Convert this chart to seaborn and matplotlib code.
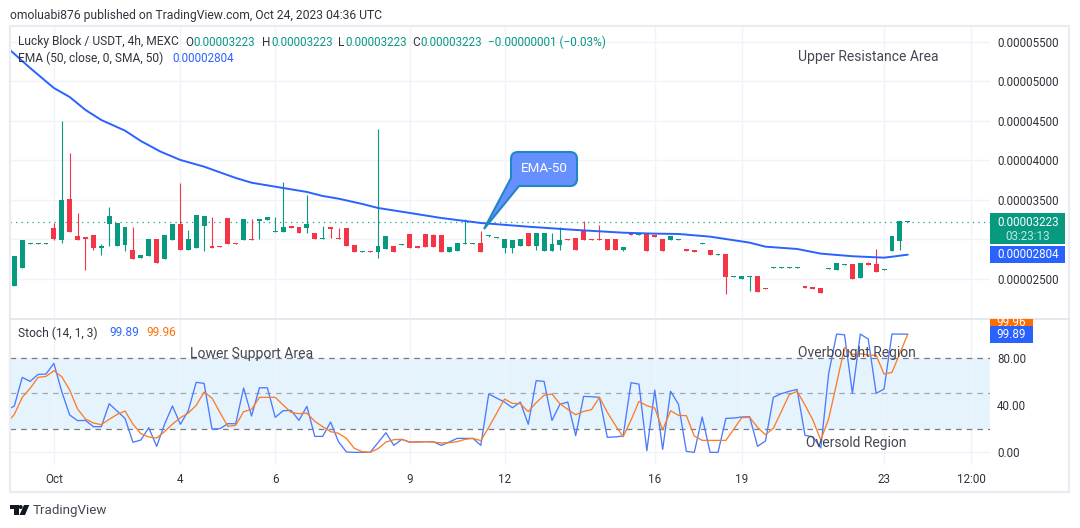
import matplotlib
matplotlib.use("Agg")
import matplotlib.pyplot as plt
from matplotlib.patches import PathPatch, Polygon, Rectangle, Circle
from matplotlib.path import Path
import numpy as np
import pandas as pd
import seaborn as sns

W, H = 1080, 528
SCALE = 1e-8

opens = [2413,2640,2942,2942,2942,3142,2994,3509,3041,3028,3053,2893,3197,2914,2927,2864,2762,2788,3003,2750,
         2990,3193,2864,2889,3167,2914,2916,3269,2954,2990,3003,3231,3243,3094,3091,3167,3155,3142,3079,3005,
         3155,3017,3142,2927,2841,2853,2838,2876,2914,2929,3066,2914,3066,3058,3053,2838,2851,2942,2942,2952,
         3039,3018,2889,2889,2914,3079,2914,2851,2851,2927,3005,3015,3104,3005,3005,3003,3003,2864,3079,3053,
         3066,3053,3003,2990,2993,2876,2864,2942,2864,2803,2813,2520,2497,2524,2535,2384,2638,2638,2630,2638,
         2408,2395,2383,2626,2610,2676,2686,2509,2699,2686,2613,2851,2978,3217]
closes = [2788,2990,2954,2954,2954,3003,3496,3096,2994,3007,2893,2914,3294,3205,3155,2750,2800,3003,2699,3053,
          3193,2864,3003,3307,3294,2889,2904,2940,2942,3256,2990,3256,3281,3106,3155,3142,3079,3193,3003,3017,
          3129,3005,2914,2838,2853,2841,2914,3041,2838,2941,2889,2889,2902,2902,2838,2902,2952,2954,2954,2838,
          3051,3030,3003,2990,3003,2914,3079,3079,2940,2990,2993,2864,2990,2993,2993,2864,2864,2902,3053,3066,
          2851,3028,2851,3041,3005,2851,2838,2954,2800,2815,2522,2532,2535,2536,2332,2372,2650,2650,2642,2650,
          2387,2374,2319,2638,2699,2688,2497,2699,2678,2585,2625,3041,3231,3229]
highs = [2788,2990,2954,2954,2954,3210,4496,4091,3332,3028,3053,2940,3408,3205,3155,3155,2800,3003,3003,3053,
         3193,3712,3117,3307,3294,3281,2916,3269,2954,3256,3256,3256,3281,3281,3724,3167,3155,3560,3079,3167,
         3155,3142,3142,2927,2853,2853,4395,3041,2914,2941,3066,2914,3066,3066,3053,2902,2952,3256,2954,3104,
         3051,3030,3003,2990,3003,3079,3079,3079,3079,3155,3005,3015,3231,3005,3180,3003,3003,2902,3079,3066,
         3066,3053,3003,3041,3005,2876,2864,2954,2864,2815,2813,2532,2535,2536,2535,2384,2650,2650,2642,2650,
         2408,2395,2383,2638,2699,2688,2686,2699,2712,2876,2625,3041,3231,3229]
lows = [2413,2640,2942,2942,2942,2990,2956,3096,2994,2610,2864,2800,2914,2914,2851,2750,2762,2788,2699,2750,
        2990,2864,2864,2889,2851,2889,2904,2940,2942,2990,2990,3003,3243,3094,3091,3142,3079,3079,3003,3005,
        3015,3005,2914,2838,2841,2841,2767,2876,2838,2929,2889,2889,2902,2902,2838,2838,2851,2942,2942,2838,
        3028,3018,2826,2826,2914,2914,2864,2851,2851,2864,2993,2864,2990,2993,2993,2864,2864,2851,3053,3053,
        2851,3028,2851,2990,2993,2851,2838,2942,2800,2803,2307,2520,2497,2345,2332,2372,2638,2638,2630,2638,
        2387,2374,2319,2626,2610,2676,2497,2509,2678,2585,2613,2851,2864,3217]

ema_idx = [-0.55,2,5,7,9,11,14,16,18.5,21,24,28,30,34,37,39,41,44,46,50,54,59,65,71,77,81,84,88,93,95,99,102,106,110,111,113]
ema_val = [5395,5167,4914,4800,4636,4509,4374,4243,4108,4003,3918,3775,3715,3648,3598,3547,3513,3446,3395,3332,3268,3205,
           3158,3117,3082,3070,3066,3032,2956,2905,2876,2817,2784,2766,2778,2804]

stoch_k = [35.5,39.2,63.4,60.0,65.9,66.2,75.2,51.3,31.6,26.8,27.0,21.7,21.7,41.1,34.9,28.7,8.5,10.4,20.8,5.1,23.7,
           39.2,23.7,35.2,59.2,58.3,19.7,20.0,24.2,24.2,54.4,30.7,54.6,54.6,29.6,35.2,35.5,27.0,38.9,13.5,13.5,
           25.6,9.0,0.3,0,0,0,8.2,16.6,5.9,11.0,8.7,8.7,9.0,9.0,5.9,8.7,11.8,11.8,11.8,5.9,49.3,45.9,42.5,37.7,
           42.5,23.7,60.6,60.0,27.0,40.6,42.5,14.1,47.3,47.0,46.5,12.7,13.0,13.8,58.9,57.7,1.4,52.7,2.5,51.6,40.6,
           0.8,0,29.9,0,0,28.7,29.0,29.9,30.1,5.1,9.6,46.5,49.6,51.6,53.2,14.4,13.2,3.7,66.8,100,99.4,49.9,100,
           95.8,49.9,53.5,100,100,99.89]
stoch_d = [24.5,32.1,46.5,54.1,63.4,64.2,69.0,63.9,52.7,36.6,28.2,24.8,23.4,27.9,32.1,34.9,23.9,15.8,13.0,12.1,17.5,
           23.9,29.3,33.2,39.7,51.0,45.9,33.8,22.0,22.8,34.4,36.3,46.5,46.5,46.5,40.0,33.8,32.7,33.2,26.2,21.7,
           17.5,16.1,11.8,3.4,0.6,0,3.1,8.7,10.7,11.0,8.5,9.0,9.0,8.7,7.9,8.2,9.0,11.0,11.8,9.9,21.1,33.0,45.1,41.4,
           41.1,34.4,42.0,48.2,49.3,41.1,36.3,31.8,34.6,36.1,46.5,33.8,23.1,13.2,27.3,43.1,39.4,37.5,18.9,35.2,31.3,
           31.0,13.8,10.1,10.1,10.1,10.1,19.7,29.3,29.6,21.1,14.9,20.3,34.4,48.7,51.6,40.0,27.3,10.4,28.5,58.3,88.7,
           82.8,83.4,82.3,82.0,66.2,67.6,83.7,99.96]

price_ticks = [2500, 3000, 3500, 4000, 4500, 5000, 5500]
hidden_price_tick = 3000
time_tick_idx = [5, 21, 33, 50, 62, 81, 92, 110, 121]
time_tick_lbl = ["Oct", "4", "6", "9", "12", "16", "19", "23", "12:00"]
stoch_ticks = [0, 40, 80]

GREEN, RED, BLUE, ORANGE = "#089981", "#f23645", "#2962ff", "#ff6d00"
GRID, FRAME, TXT = "#f0f3fa", "#e9ecf3", "#2f323b"
FONT = "Roboto"
sns.set_style("white", {"font.family": FONT})
plt.rcParams["font.family"] = FONT

px = lambda p: p * 72 / 100  # css px -> pt
fig = plt.figure(figsize=(W / 100, H / 100), dpi=100, facecolor="white")

def axes_px(x0, y0, x1, y1):
    return fig.add_axes([x0 / W, 1 - y1 / H, (x1 - x0) / W, (y1 - y0) / H])

X0, X1 = -0.548, 123.4
ax = axes_px(10, 26, 990, 318)
ax2 = axes_px(10, 320, 990, 465)

# --- price panel
df = pd.DataFrame({"i": range(len(opens)), "o": opens, "c": closes, "h": highs, "l": lows}).astype(float)
df[["o", "c", "h", "l"]] *= SCALE
df["col"] = np.where(df.c >= df.o, GREEN, RED)
ax.vlines(df.i, df.l, df.h, colors=df.col, lw=0.8, zorder=3)
ax.bar(df.i, (df.c - df.o).abs(), bottom=df[["o", "c"]].min(axis=1), width=0.62, color=df.col, linewidth=0, zorder=3)
ax.axhline(3223 * SCALE, color=GREEN, lw=0.9, ls=(0, (1, 3.4)), alpha=0.9, zorder=2)
sns.lineplot(x=ema_idx, y=np.array(ema_val) * SCALE, ax=ax, color=BLUE, lw=1.4, estimator=None, sort=False, zorder=4)
ax.set_xlim(X0, X1)
ax.set_ylim(2002 * SCALE, 5699 * SCALE)
ax.yaxis.tick_right()
ax.set_yticks([t * SCALE for t in price_ticks])
ax.set_yticklabels(["" if t == hidden_price_tick else f"{t * SCALE:.8f}" for t in price_ticks],
                   fontsize=px(11.6), color=TXT)
ax.set_xticks(time_tick_idx)
ax.tick_params(axis="both", length=0, labelbottom=False, pad=5)
ax.grid(True, color=GRID, lw=1)
ax.set_axisbelow(True)
for s in ax.spines.values():
    s.set_visible(False)

# --- stochastic panel
ax2.axhspan(20, 80, color="#e5f3fd", lw=0, zorder=0)
ax2.set_xlim(X0, X1)
ax2.set_ylim(-10.7, 111.9)
sx = np.arange(-1, len(stoch_k) - 1)
sns.lineplot(x=sx, y=stoch_k, ax=ax2, color="#4a7bff", lw=0.95, estimator=None, zorder=3)
sns.lineplot(x=sx, y=stoch_d, ax=ax2, color="#fb7d2a", lw=0.95, estimator=None, zorder=4)
for lev, c in ((80, "#787b86"), (50, "#a5a8b2"), (20, "#787b86")):
    ax2.axhline(lev, color=c, lw=0.9, ls=(0, (4.5, 4)), zorder=2)
ax2.yaxis.tick_right()
ax2.set_yticks(stoch_ticks)
ax2.set_yticklabels([f"{t:.2f}" for t in stoch_ticks], fontsize=px(11.6), color=TXT)
ax2.set_xticks(time_tick_idx)
ax2.set_xticklabels(time_tick_lbl, fontsize=px(11.6), color=TXT)
ax2.tick_params(axis="y", length=0, pad=5)
ax2.tick_params(axis="x", length=0, pad=6)
ax2.grid(True, color=GRID, lw=1)
ax2.set_axisbelow(True)
for s in ax2.spines.values():
    s.set_visible(False)

# --- overlay in pixel coordinates
ov = fig.add_axes([0, 0, 1, 1], facecolor="none")
ov.set_xlim(0, W)
ov.set_ylim(H, 0)
ov.axis("off")

ov.add_patch(Rectangle((10, 26), 1059, 466, fill=False, ec=FRAME, lw=1.6))
ov.plot([10, 1069], [318.5, 318.5], color="#e0e3eb", lw=1.2)

def T(x, y, s, color=TXT, size=11.6, ha="left", **k):
    ov.text(x, y, s, color=color, fontsize=px(size), ha=ha, va="center", **k)

T(10, 15, "omoluabi876 published on TradingView.com, Oct 24, 2023 04:36 UTC", size=12.1)
T(18, 42, "Lucky Block / USDT, 4h, MEXC", size=12)
for xl, l, xv in ((185, "O", 193), (262, "H", 271), (338, "L", 345), (412, "C", 420)):
    T(xl, 42, l, size=11.8)
    T(xv, 42, "0.00003223", color=GREEN, size=11.6)
T(488, 42, "\u22120.00000001 (\u22120.03%)", color=GREEN, size=11.8)
T(18, 58, "EMA (50, close, 0, SMA, 50)", size=12)
T(172, 58, "0.00002804", color=BLUE, size=11.6)
T(18, 333, "Stoch (14, 1, 3)", size=12)
T(109, 333, "99.89", color=BLUE, size=11.8)
T(146, 333, "99.96", color=ORANGE, size=11.8)
T(798, 57, "Upper Resistance Area", color="#434651", size=13.9)
T(190, 354, "Lower Support Area", color="#434651", size=14)
T(798, 353, "Overbought Region", color="#434651", size=13.9)
T(806, 443, "Oversold Region", color="#434651", size=13.9)

# price tags
ov.add_patch(Rectangle((990, 213), 75, 31, fc=GREEN, ec="none", zorder=5))
T(1028, 222, "0.00003223", color="white", size=11.6, ha="center", zorder=6)
T(1028, 236, "03:23:13", color="#c4e8e1", size=11.6, ha="center", zorder=6)
ov.add_patch(Rectangle((990, 246), 75, 17, fc=BLUE, ec="none", zorder=5))
T(1028, 255, "0.00002804", color="white", size=11.6, ha="center", zorder=6)
ov.add_patch(Rectangle((990, 319), 43, 8, fc=ORANGE, ec="none", zorder=5))
tag = ov.text(1011, 322, "99.96", color="white", fontsize=px(11.6), ha="center", va="center", zorder=6)
tag.set_clip_path(Rectangle((990, 319), 43, 8, transform=ov.transData))
ov.add_patch(Rectangle((990, 326), 43, 17, fc=BLUE, ec="none", zorder=7))
T(1011, 335, "99.89", color="white", size=11.6, ha="center", zorder=8)

# callout
verts = [(484, 229), (511, 178), (511, 159), (511, 152), (518, 152), (570, 152), (577, 152), (577, 159),
         (577, 179), (577, 186), (570, 186), (519, 186), (484, 229)]
codes = [Path.MOVETO, Path.LINETO, Path.LINETO, Path.CURVE3, Path.CURVE3, Path.LINETO, Path.CURVE3, Path.CURVE3,
         Path.LINETO, Path.CURVE3, Path.CURVE3, Path.LINETO, Path.CLOSEPOLY]
ov.add_patch(PathPatch(Path(verts, codes), fc="#6690ff", ec="#1f87c6", lw=1.5, zorder=5))
T(544, 168, "EMA-50", color="white", size=13.4, ha="center", zorder=6)

# TradingView logo and name
ov.add_patch(Polygon([(10, 505), (18.5, 505), (18.5, 515), (14, 515), (14, 509), (10, 509)], fc="#131722", ec="none"))
ov.add_patch(Circle((20.7, 507), 2, fc="#131722", ec="none"))
ov.add_patch(Polygon([(24, 505), (29.3, 505), (25, 515), (19.5, 515)], fc="#131722", ec="none"))
T(33, 510.5, "TradingView", color="#434651", size=13.4)

fig.savefig("out.png", dpi=100)
